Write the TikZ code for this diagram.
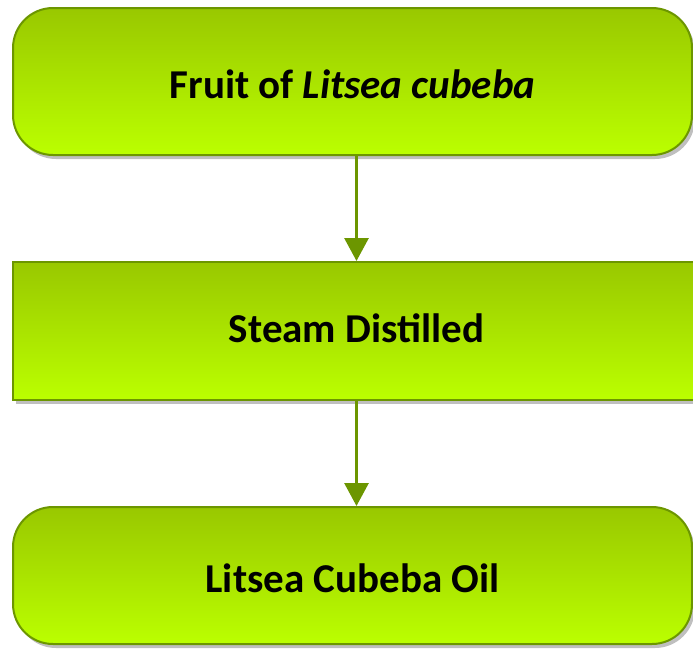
\documentclass[tikz,border=0pt]{standalone}
\usepackage{fontspec}
\setmainfont{Carlito}
\usetikzlibrary{shadows,arrows.meta}
\definecolor{leafTop}{HTML}{99C800}
\definecolor{leafBot}{HTML}{BBFF00}
\definecolor{leafEdge}{HTML}{6C9600}
\tikzset{
  stepbase/.style={draw=leafEdge, line width=2pt, top color=leafTop, bottom color=leafBot,
    text=black, font=\fontsize{41}{44}\selectfont\bfseries, text depth=0pt,
    drop shadow={shadow xshift=3pt, shadow yshift=-4pt, fill=black, opacity=.25}},
  roundbox/.style={stepbase, rounded corners=40pt, minimum width=679pt, minimum height=147pt},
  flatbox/.style={stepbase, minimum width=687pt, minimum height=138pt},
  flow/.style={draw=leafEdge, line width=3pt, -{Triangle[length=23pt,width=24pt]}}
}
\begin{document}
\begin{tikzpicture}[x=1pt,y=-1pt]
  \useasboundingbox (0,0) rectangle (693,648);
  % the three steps
  \node[roundbox, text height=33pt] (fruit) at (352.5,81.5) {Fruit of \textit{Litsea cubeba}};
  \node[flatbox, text height=22pt] (steam) at (356.5,331) {Steam Distilled};
  \node[roundbox, minimum height=137pt, text height=33pt] (oil) at (352.5,575.5) {Litsea Cubeba Oil};

  % connectors
  \draw[flow] (steam.north |- fruit.south) -- (steam.north);
  \draw[flow] (steam.south) -- (steam.south |- oil.north);
\end{tikzpicture}
\end{document}
